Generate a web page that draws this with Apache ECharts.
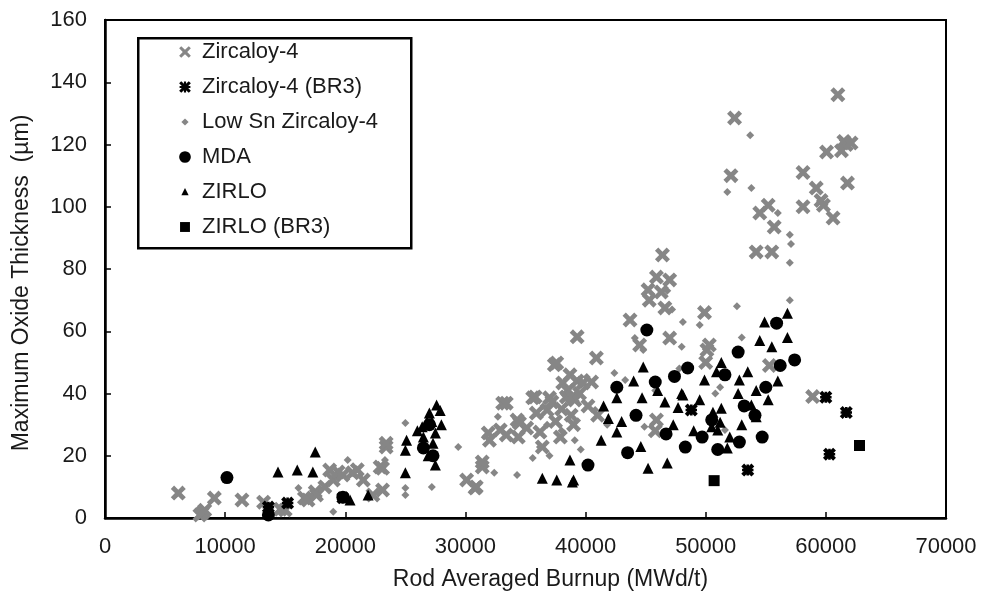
<!DOCTYPE html>
<html>
<head>
<meta charset="utf-8">
<script src="https://cdn.jsdelivr.net/npm/echarts@6/dist/echarts.min.js"></script>
<style>
  html, body { margin: 0; padding: 0; background: #ffffff; }
  #chart { width: 985px; height: 601px; }
</style>
</head>
<body>
<div id="chart"></div>
<script>
// Rod averaged burnup (MWd/t) vs. maximum oxide thickness (µm), one array per cladding type
const seriesNames = ['Zircaloy-4', 'Zircaloy-4 (BR3)', 'Low Sn Zircaloy-4', 'MDA', 'ZIRLO', 'ZIRLO (BR3)'];

const zircaloy4 = [
  [6100, 8], [7900, 1], [8100, 1.6], [8300, 2.5], [9100, 6.4], [11400, 5.8], [13200, 5.1],
  [14600, 2.8], [15000, 2.6], [16600, 6.4], [16900, 5.8], [17500, 8.4], [17600, 7.4],
  [18300, 10], [18700, 15.4], [19000, 12.2], [19400, 14.8], [19800, 13.8], [20600, 14.5],
  [21000, 15.5], [21500, 12.2], [22300, 7.4], [22900, 16.4], [23100, 9], [23100, 16],
  [23400, 22.8], [23400, 24],
  [30100, 12.2], [30800, 9.6], [30900, 10], [31400, 16.4], [31400, 18], [31900, 27.3],
  [32000, 25], [32900, 28.3], [33400, 26.7], [33100, 36.9], [33400, 36.9], [34300, 31.5],
  [34400, 26], [34500, 30.5], [35100, 28.9], [35600, 38.6], [35800, 38.9], [35900, 33.7],
  [36200, 27.6], [36400, 22.8], [36800, 34.7], [37000, 38.6], [37200, 37.3], [37400, 49.2],
  [37500, 31], [37600, 49.8], [37900, 26], [38000, 35], [38100, 43.4], [38400, 38.9],
  [38500, 41], [38700, 46], [38800, 33], [38900, 38.9], [39000, 30], [39100, 37.9],
  [39300, 44], [39300, 58.2], [39500, 40], [39800, 43.4], [40200, 36], [40500, 43.7],
  [40900, 51.4], [41000, 33],
  [43700, 63.6], [44500, 55.6], [45200, 73.3], [45300, 70], [45800, 28], [45900, 77.4],
  [45900, 31.5], [46300, 72.6], [46400, 84.5], [46600, 67.5], [47000, 76.5], [47000, 57.8],
  [49900, 66], [50000, 50], [50100, 54], [50300, 55.6], [52100, 110], [52400, 128.5],
  [54200, 85.5], [54500, 98], [55200, 100.5], [55300, 49], [55500, 85.5], [55700, 93.5],
  [58100, 111], [58100, 100], [58900, 39], [59200, 106], [59600, 102], [59800, 100.5],
  [60060, 117.6], [60600, 96.4], [61000, 136], [61300, 118], [61500, 121], [61700, 120],
  [61800, 107.6], [62100, 120.5]
];

const zircaloy4Br3 = [
  [13600, 3.5], [15200, 4.8], [19800, 6.5], [48800, 34.7], [53500, 15.4],
  [60000, 38.8], [60300, 20.5], [61700, 33.9]
];

const lowSnZircaloy4 = [
  [13500, 0.5], [16100, 9.6], [19000, 2], [20200, 18.6], [23300, 18.6], [25000, 30.5],
  [25000, 9.6], [25000, 7.4], [27200, 10], [29400, 22.8], [32400, 14.5], [32700, 32.5],
  [34300, 13.8], [35600, 19.3], [36200, 22.8], [36800, 30], [37000, 20], [38000, 28],
  [39100, 25], [39600, 22], [40100, 45.3], [40800, 34.7], [41800, 30], [42400, 46.6],
  [43300, 44.3], [44100, 57.8], [44800, 54], [44900, 29.3], [45800, 41], [46800, 73],
  [47200, 67], [47800, 48], [48000, 55], [48100, 63], [49500, 62], [50800, 40],
  [51200, 42], [51600, 28.3], [51800, 104.7], [52600, 68], [53000, 58], [53700, 123],
  [53800, 106], [56000, 98], [57000, 91], [57100, 88], [57000, 82], [57000, 70]
];

const mda = [
  [10150, 13], [13600, 1], [19800, 6.7], [26500, 22.5], [27000, 30], [27300, 20],
  [40200, 17], [42600, 42], [43500, 21], [44200, 33], [45100, 60.4], [45800, 43.7],
  [46700, 27], [47400, 45.5], [48300, 22.8], [48500, 48.2], [49700, 26], [50500, 31.5],
  [51000, 22], [51600, 46], [52700, 53.3], [52800, 24.4], [53200, 36], [54100, 33],
  [54700, 26], [55000, 42], [55900, 62.6], [56200, 49], [57400, 50.8]
];

const zirlo = [
  [14400, 14.8], [16000, 15.4], [17300, 14.8], [17500, 21.2], [20400, 5.8], [21900, 7.4],
  [25000, 21.8], [25000, 14.5], [25100, 25], [26000, 28], [26400, 29.3], [26500, 26],
  [26800, 31], [26900, 20], [27000, 33.7], [27200, 31], [27300, 24], [27500, 27.3],
  [27500, 17], [27600, 36.3], [27900, 34.5], [28000, 30],
  [36400, 12.8], [37600, 12.2], [38700, 18.6], [38900, 11.6], [39000, 12.2],
  [41300, 25], [41500, 36], [41900, 32], [42600, 38.6], [42600, 27.6], [43000, 31],
  [44000, 44], [44600, 23], [44700, 38.6], [44800, 48.5], [45200, 16], [46000, 41],
  [46600, 37.3], [46800, 17.7], [47300, 30], [47700, 35.5], [48000, 40], [48100, 39.5],
  [49000, 28], [49500, 38], [49900, 44.3], [50500, 29.3], [50600, 34], [50900, 47],
  [51000, 28.3], [51200, 30.8], [51300, 50], [51300, 35.3], [51800, 22.5], [52000, 26],
  [52700, 40], [52800, 44.3], [53000, 30], [53500, 47], [53800, 36.3], [54200, 32.5],
  [54200, 41], [54500, 57], [54900, 63], [55200, 38], [55500, 55], [56000, 44],
  [56800, 58], [56800, 65.8]
];

const zirloBr3 = [
  [50700, 12], [62800, 23.3]
];

// Axis ranges and tick spacing
const xAxisRange = { min: 0, max: 70000, interval: 10000 };
const yAxisRange = { min: 0, max: 160, interval: 20 };

// Marker shapes
const CROSS_SHAPE = 'M0,2.2L2.2,0L5,2.8L7.8,0L10,2.2L7.2,5L10,7.8L7.8,10L5,7.2L2.2,10L0,7.8L2.8,5Z';
const CROSS = 'path://' + CROSS_SHAPE;
const STAR = 'path://' + CROSS_SHAPE + 'M0.6,4L9.4,4L9.4,6L0.6,6ZM4,0.8L6,0.8L6,9.2L4,9.2Z';
// Legend icons padded with empty move-to points so they keep their own scale
const pad = (p) => 'path://M0,0M20,20' + p;
const legendIcons = {
  'Zircaloy-4': pad('M3.5,5.8L5.8,3.5L10,7.5L14.2,3.5L16.5,5.8L12.5,10L16.5,14.2L14.2,16.5L10,12.5L5.8,16.5L3.5,14.2L7.5,10Z'),
  'Zircaloy-4 (BR3)': pad('M3.5,5.8L5.8,3.5L10,7.5L14.2,3.5L16.5,5.8L12.5,10L16.5,14.2L14.2,16.5L10,12.5L5.8,16.5L3.5,14.2L7.5,10Z' +
                          'M4,8.8L16,8.8L16,11.2L4,11.2ZM8.8,4L11.2,4L11.2,16L8.8,16Z'),
  'Low Sn Zircaloy-4': pad('M10,6L14,10L10,14L6,10Z'),
  'MDA': pad('M10,3.5A6.5,6.5,0,1,1,9.99,3.5Z'),
  'ZIRLO': pad('M10,5.5L14,13.5L6,13.5Z'),
  'ZIRLO (BR3)': pad('M4.5,4.5L15.5,4.5L15.5,15.5L4.5,15.5Z')
};

const GREY = '#868686';
const BLACK = '#000000';
const TEXT = '#1a1a1a';
const FONT = 'Liberation Sans';

const chart = echarts.init(document.getElementById('chart'), null, { renderer: 'canvas' });

const makeSeries = (name, data, symbol, size, color) => ({
  name, type: 'scatter', data, symbol, symbolSize: size,
  itemStyle: { color, opacity: 1 },
  emphasis: { disabled: true },
  animation: false
});

chart.setOption({
  backgroundColor: '#ffffff',
  animation: false,
  textStyle: { fontFamily: FONT },
  grid: {
    left: 105, right: 39, top: 20, bottom: 83,
    show: true, borderColor: BLACK, borderWidth: 2, backgroundColor: 'transparent'
  },
  graphic: [{
    type: 'rect', left: 137, top: 37, z: 10,
    shape: { width: 273, height: 210 },
    style: { fill: '#ffffff', stroke: BLACK, lineWidth: 2.5 }
  }],
  legend: {
    orient: 'vertical', left: 176, top: 41, z: 20, padding: 0,
    itemWidth: 18, itemHeight: 18, itemGap: 13,
    selectedMode: false,
    data: seriesNames.map((n, i) => ({
      name: n, icon: legendIcons[n],
      itemStyle: { color: (i === 0 || i === 2) ? GREY : BLACK, borderWidth: 0 }
    })),
    textStyle: { fontFamily: FONT, fontSize: 22, color: TEXT, lineHeight: 22, padding: [0, 0, 0, 3] }
  },
  xAxis: {
    type: 'value', min: xAxisRange.min, max: xAxisRange.max, interval: xAxisRange.interval,
    name: 'Rod Averaged Burnup (MWd/t)', nameLocation: 'middle', nameGap: 50,
    nameTextStyle: { fontFamily: FONT, fontSize: 23, color: TEXT, padding: [0, 0, 0, 50] },
    axisLine: { onZero: false, lineStyle: { color: BLACK, width: 2.5 } },
    axisTick: { inside: true, length: 6, lineStyle: { color: BLACK, width: 1.5 } },
    axisLabel: { margin: 18, fontFamily: FONT, fontSize: 22, color: TEXT, formatter: (v) => String(v) },
    splitLine: { show: false }
  },
  yAxis: {
    type: 'value', min: yAxisRange.min, max: yAxisRange.max, interval: yAxisRange.interval,
    name: 'Maximum Oxide Thickness  (\u00b5m)', nameLocation: 'middle', nameGap: 72, nameRotate: 90,
    nameTextStyle: { fontFamily: FONT, fontSize: 23, color: TEXT, padding: [0, 28, 0, 0] },
    axisLine: { onZero: false, lineStyle: { color: BLACK, width: 2.5 } },
    axisTick: { inside: true, length: 6, lineStyle: { color: BLACK, width: 1.5 } },
    axisLabel: { margin: 18, fontFamily: FONT, fontSize: 22, color: TEXT },
    splitLine: { show: false }
  },
  series: [
    makeSeries('Zircaloy-4', zircaloy4, CROSS, 15, GREY),
    makeSeries('Low Sn Zircaloy-4', lowSnZircaloy4, 'diamond', 8, GREY),
    makeSeries('Zircaloy-4 (BR3)', zircaloy4Br3, STAR, 13, BLACK),
    makeSeries('MDA', mda, 'circle', 13, BLACK),
    makeSeries('ZIRLO', zirlo, 'triangle', 11, BLACK),
    makeSeries('ZIRLO (BR3)', zirloBr3, 'rect', 11, BLACK)
  ]
});
</script>
</body>
</html>
